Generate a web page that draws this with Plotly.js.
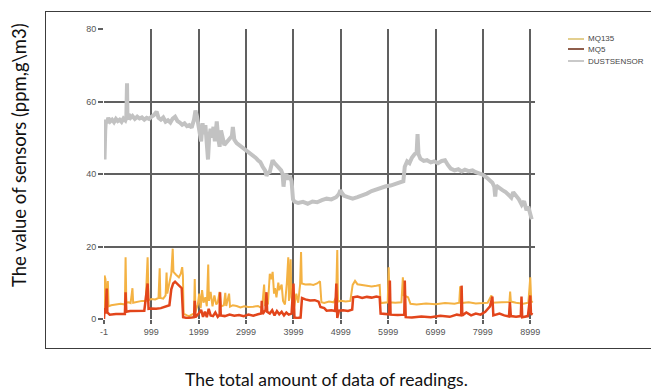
<!DOCTYPE html>
<html>
<head>
<meta charset="utf-8">
<script src="https://cdn.plot.ly/plotly-3.0.1.min.js"></script>
<style>
html,body{margin:0;padding:0;background:#fff;overflow:hidden;}
#wrap{position:relative;width:651px;height:391px;}
#chart{position:absolute;left:0;top:0;width:651px;height:391px;}
#frame{position:absolute;left:45px;top:11px;width:700px;height:336px;border:1.6px solid #3c3c3c;pointer-events:none;}
</style>
</head>
<body>
<div id="wrap"><div id="chart"></div><div id="frame"></div></div>
<script>
// ---- Data ----
const seriesNames = ["MQ135", "MQ5", "DUSTSENSOR"];
const xTickVals = [-1, 999, 1999, 2999, 3999, 4999, 5999, 6999, 7999, 8999];
const yTickVals = [0, 20, 40, 60, 80];

const dustX = [-1,10,25,40,60,90,130,170,210,250,290,330,370,410,450,470,485,495,520,560,600,650,700,750,800,850,900,950,1000,1050,1110,1150,1200,1250,1300,1350,1400,1450,1500,1550,1600,1650,1700,1750,1800,1850,1900,1930,1960,1990,2020,2050,2080,2110,2140,2170,2195,2220,2250,2280,2310,2340,2380,2410,2440,2470,2500,2540,2580,2620,2660,2700,2720,2750,2800,2850,2900,2950,3000,3050,3100,3150,3200,3250,3300,3350,3400,3430,3460,3500,3530,3560,3600,3650,3700,3740,3770,3790,3810,3850,3880,3920,3960,3990,4020,4100,4200,4300,4400,4500,4600,4700,4800,4900,4960,4990,5020,5070,5150,5250,5350,5450,5550,5650,5750,5850,5950,6050,6150,6250,6320,6350,6400,6450,6500,6560,6600,6620,6640,6680,6750,6820,6900,6970,7050,7130,7200,7260,7320,7400,7480,7550,7620,7700,7780,7850,7920,8000,8080,8150,8200,8240,8260,8280,8350,8420,8480,8540,8600,8640,8700,8760,8820,8870,8920,8960,9000,9030];
const dust  = [47,44,52,55,54,55.5,54.5,55,54.3,55.2,54.6,55,54.4,55.3,54.8,55.5,65,55,56.5,55.5,56,55.2,55.8,55.3,55.6,55,55.5,55.2,55.8,56.2,57.2,55.5,55,55.6,54.4,54.8,54.2,55.3,55.8,54.6,54.2,53.6,54,53.2,53.5,52.8,55,57.5,56,54,52,49,54,51,53.5,48,44,50,52.5,50,53,49,54.5,50,47.5,52,50.5,48,48.6,49.2,49.5,50.5,53,49.5,48.5,48,47.8,47.3,46.8,46.2,45.5,45,44.5,43.8,43.3,42,41,39.5,40.3,40.6,42.8,43.8,43,42.4,41.5,41,40,36.5,39,40,38.5,39.5,38,33,32.4,32,32.3,31.8,32.4,32.2,32.8,33.2,33,33.6,34.5,35.5,34.8,34,33.6,33.2,33.6,34,34.6,35.3,35.8,36.3,36.6,36.8,37.3,37.8,38,42,43.5,43,44.5,45.5,45.8,51,45.5,44.2,43.6,43.8,43.2,43.5,43,43.6,43.8,42.5,41.5,41,41.3,40.7,41.2,40.8,41,40.5,40.2,39.8,39,38.2,37.6,36.5,33.8,36.8,36,35.5,35,34.3,33.5,35,34,33,31.5,32.5,30,31,29,27.5];

const mq135X = [-1,10,30,50,80,95,150,250,350,440,455,470,520,560,600,615,700,800,880,920,940,1000,1080,1150,1175,1190,1250,1300,1320,1335,1380,1420,1450,1465,1520,1580,1620,1650,1665,1680,1750,1800,1850,1900,1915,1930,1980,2010,2040,2070,2100,2140,2170,2200,2215,2250,2290,2330,2370,2400,2440,2470,2530,2560,2580,2640,2660,2720,2800,2880,2960,3050,3150,3250,3300,3340,3380,3400,3430,3460,3500,3530,3560,3590,3610,3640,3680,3700,3750,3780,3820,3860,3890,3905,3940,3955,3990,4020,4060,4100,4140,4160,4175,4250,4350,4420,4500,4560,4590,4650,4750,4850,4900,4925,4940,5000,5100,5200,5250,5300,5350,5450,5550,5650,5750,5820,5840,5900,5990,6010,6030,6150,6280,6310,6330,6420,6470,6600,6800,7000,7200,7400,7500,7520,7540,7700,7850,8000,8100,8180,8200,8400,8560,8575,8590,8700,8850,8960,9000,9020,9050];
const mq135  = [0,12,11,4,10.5,3.5,3.8,4,4.2,4,17,4.5,4.6,4.4,8.5,4.5,4.8,5,5,17,5.2,5.5,5.4,5.8,14,5.8,5.6,6.5,12.8,7,10,12.5,19.4,13,12.2,11.5,12.5,14.3,12,1.5,1,0.8,1.2,1.5,11,2,4,7,3,8,4.5,6,3.5,15,5,7.5,3.5,6.5,4,4.5,7.5,3.5,3.8,7.2,3.6,7,3.4,3.8,3.6,3.2,3.5,3.3,3.4,3.6,3.2,3.5,9.5,3.5,5,4,12.5,11,13,7,8.5,6,10,8,9.5,5,4,10,17,5,16.5,6,4,3.8,7,4.5,9.5,18.5,9.8,9.5,9.6,9.4,9.8,10.4,4.6,4.4,4.8,4.6,6,19,4.8,5,4.8,5,9.4,10.5,9.6,9.4,9.2,9,9.2,9.4,4.4,4.4,4.6,14.3,4.6,4.5,4.6,11.5,6.5,6,4.2,4,4.3,4.1,4.4,4.2,4.5,9,4.4,4.6,4.3,4.4,4.5,6.5,4.5,4.6,4.7,7.6,4.8,4.5,4.2,4.5,11.5,5,4.5];

const mq5X = [-1,10,30,57,70,120,250,350,440,455,470,550,650,750,850,920,940,1000,1100,1200,1300,1380,1420,1460,1500,1560,1600,1640,1670,1750,1850,1900,1915,1930,2000,2050,2090,2130,2170,2210,2250,2300,2350,2400,2440,2450,2465,2550,2650,2750,2850,2950,3050,3150,3250,3320,3330,3350,3410,3430,3445,3500,3550,3600,3650,3700,3750,3800,3850,3900,3960,4000,4020,4080,4150,4180,4250,4350,4450,4530,4570,4650,4700,4800,4880,4905,4925,4960,5050,5150,5240,5260,5350,5450,5550,5650,5750,5820,5840,5950,6020,6035,6050,6200,6340,6350,6370,6500,6700,6900,7100,7300,7450,7540,7550,7565,7650,7750,7850,7950,8050,8150,8200,8220,8350,8450,8550,8570,8590,8700,8800,8815,8830,8950,9000,9015,9050];
const mq5  = [0,3,1.5,8.4,1.8,1.2,1.4,1.3,1.4,7.4,2,2.2,2.3,2.4,2.3,9.8,2.8,2.9,2.8,3,3.5,3.8,8.2,9.8,10.3,9.6,9,8.5,0.5,0.3,0.4,0.5,5,0.5,1.5,2.5,0.6,2,0.5,2.8,1,0.8,1.8,0.6,1.2,7.4,1,0.8,1.2,0.9,1.1,0.8,1.2,0.9,1.3,1.5,5,1.4,2.5,7.4,2,1.5,2.4,1,2.2,1.3,2,1,1.8,1.2,1.5,9.8,0.4,0.3,0.4,5.8,5.4,5.1,5.2,4.8,3.3,3,2.3,2.4,2.2,9.8,0.3,2.3,2.4,2.2,2.6,6,6.2,5.8,6.1,5.9,6.2,6,1.5,1.4,1.3,10.6,1.2,1.1,1.2,10.6,0.5,0.4,0.7,0.5,0.9,0.6,1.2,1,9.2,1,1.8,1,1.5,1.2,2,3.5,6.2,1,1.5,1,0.7,4.7,0.8,0.6,0.8,6.2,0.5,0.8,6.5,1.5,1.2];

// ---- Styles ----
const colMQ135 = "#f4b243", colMQ5 = "#e2451b", colDust = "#c2c2c2";
const legendCols = ["#e3cf8f", "#8e5d4b", "#c9c9c9"];

// plot area geometry (px)
const L = 104, T = 29, W = 431, H = 290;
const px2x = p => (p - L) / W;
const py2y = p => (T + H - p) / H;

const traces = [
  {x: mq135X, y: mq135, name: seriesNames[0], type: "scatter", mode: "lines", line: {color: colMQ135, width: 2}, showlegend: false},
  {x: mq5X, y: mq5, name: seriesNames[1], type: "scatter", mode: "lines", line: {color: colMQ5, width: 2.5}, showlegend: false},
  {x: dustX, y: dust, name: seriesNames[2], type: "scatter", mode: "lines", line: {color: colDust, width: 4}, showlegend: false}
];

const legendY = [39, 49, 61];
const shapes = [], annotations = [];
seriesNames.forEach((n, i) => {
  shapes.push({type: "line", xref: "paper", yref: "paper", x0: px2x(568), x1: px2x(584), y0: py2y(legendY[i]), y1: py2y(legendY[i]), line: {color: legendCols[i], width: 2}});
  annotations.push({xref: "paper", yref: "paper", x: px2x(587), y: py2y(legendY[i]), xanchor: "left", yanchor: "middle", text: n, showarrow: false, borderpad: 0, font: {family: "Liberation Sans, Arial", size: 8, color: "#444"}});
});
annotations.push({xref: "paper", yref: "paper", x: px2x(326), y: py2y(379), xanchor: "center", yanchor: "middle", text: "The total amount of data of readings.", showarrow: false, font: {family: "Lato, Open Sans", size: 17.5, color: "#111"}});
annotations.push({xref: "paper", yref: "paper", x: px2x(19), y: py2y(155), xanchor: "center", yanchor: "middle", textangle: -90, text: "The value of sensors (ppm,g\\m3)", showarrow: false, font: {family: "Lato, Open Sans", size: 18.5, color: "#111"}});

const layout = {
  width: 651, height: 391,
  margin: {l: L, r: 651 - L - W, t: T, b: 391 - T - H, pad: 0},
  paper_bgcolor: "#fff", plot_bgcolor: "#fff",
  showlegend: false,
  xaxis: {
    range: [-1, 9100], tickmode: "array", tickvals: xTickVals, ticktext: xTickVals.map(String),
    showgrid: true, gridcolor: "#606060", gridwidth: 2, zeroline: false, showline: false,
    ticks: "outside", ticklen: 4, tickcolor: "#606060", tickwidth: 2,
    tickfont: {family: "Liberation Sans, Arial", size: 9, color: "#555"}, fixedrange: true
  },
  yaxis: {
    range: [0, 80], tickmode: "array", tickvals: yTickVals, ticktext: yTickVals.map(String),
    showgrid: true, gridcolor: "#606060", gridwidth: 2, zeroline: false, showline: false,
    ticks: "outside", ticklen: 5, tickcolor: "#606060", tickwidth: 2,
    tickfont: {family: "Liberation Sans, Arial", size: 9, color: "#555"}, fixedrange: true
  },
  shapes: shapes,
  annotations: annotations
};

Plotly.newPlot("chart", traces, layout, {displayModeBar: false, staticPlot: true});
</script>
</body>
</html>
